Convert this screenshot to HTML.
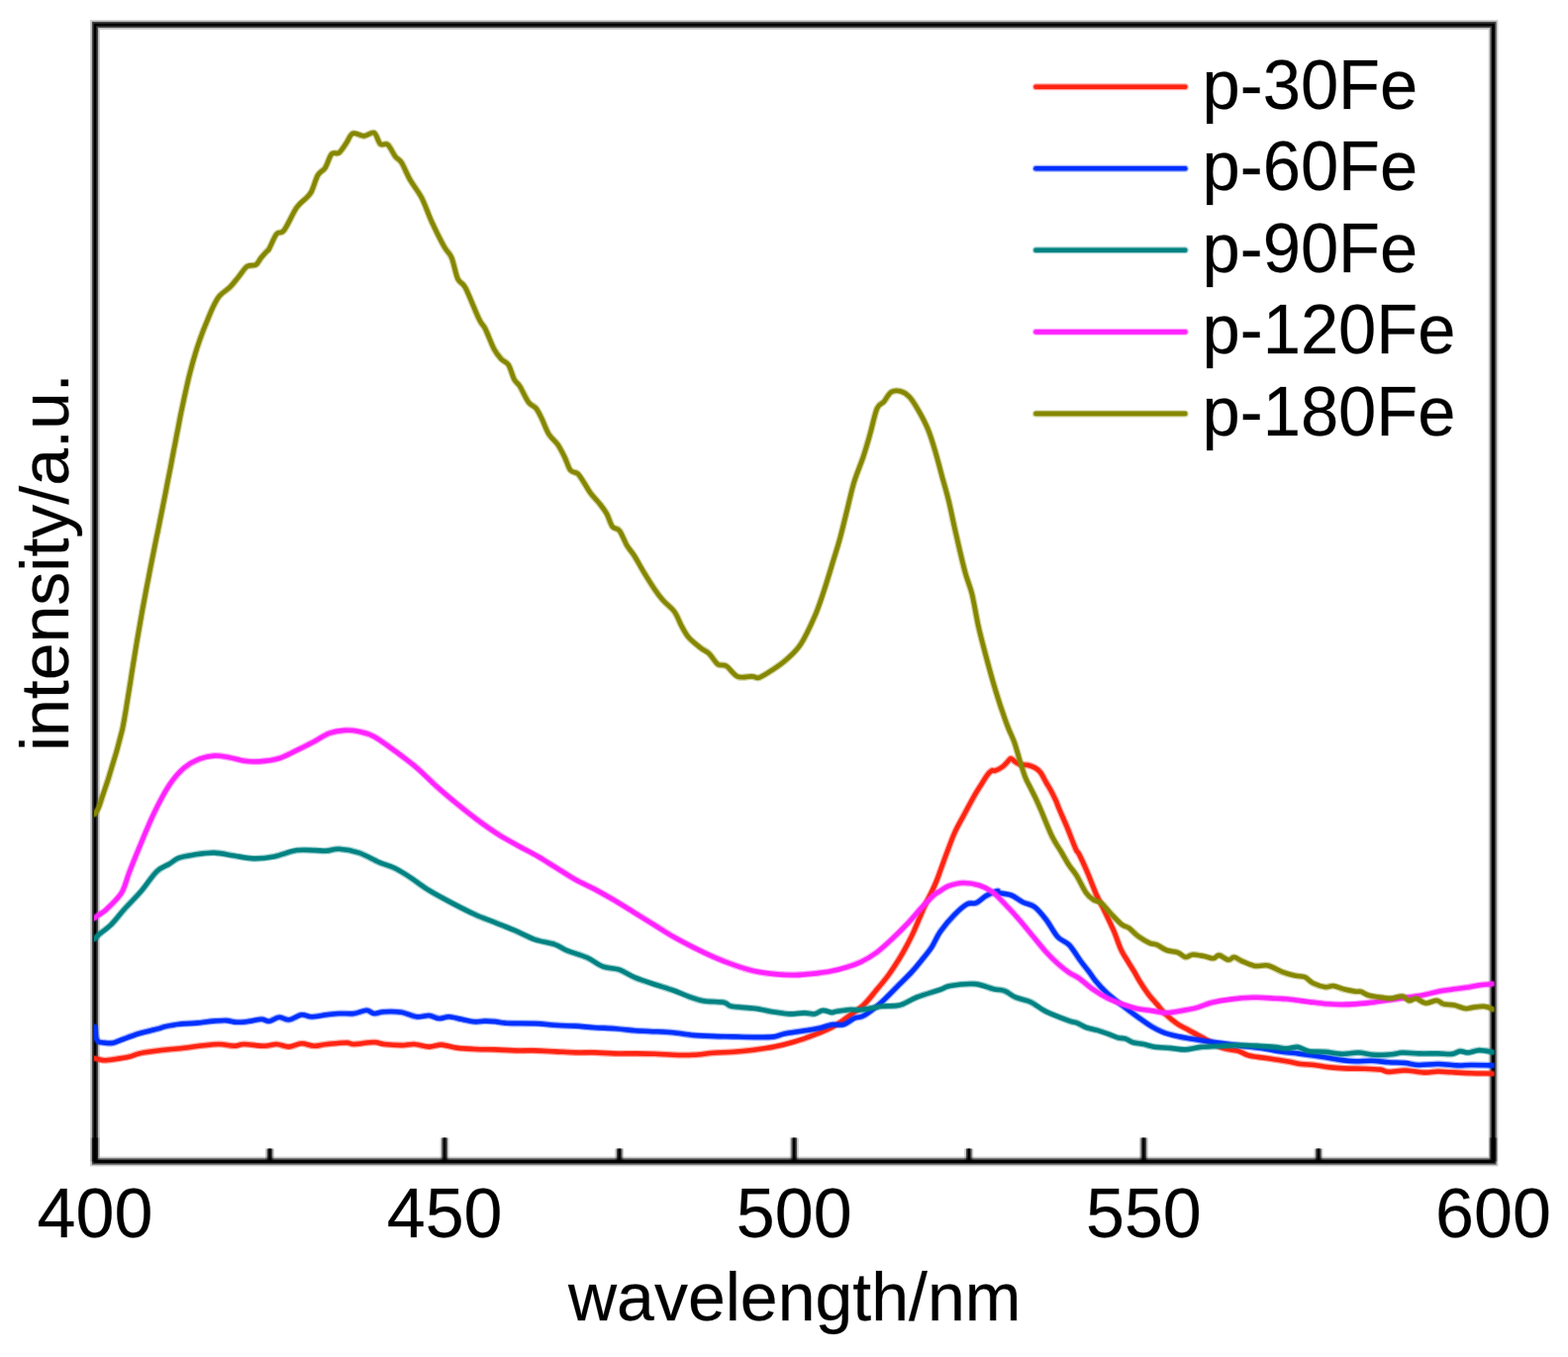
<!DOCTYPE html>
<html><head><meta charset="utf-8"><title>PL spectra</title>
<style>html,body{margin:0;padding:0;background:#fff;}svg{display:block;}text{font-family:"Liberation Sans",Arial,sans-serif;fill:#000;stroke:#000;stroke-width:0.80px;stroke-opacity:0.25;}</style></head><body>
<svg width="1584" height="1371" viewBox="0 0 1584 1371">
<rect x="0" y="0" width="1584" height="1371" fill="#fff"/>
<g fill="none" stroke="#000" stroke-opacity="0.20"><rect x="96.00" y="25.00" width="1412.50" height="1148.50" stroke-width="9.80"/><path d="M96.00 1173.50V1149.50M449.12 1173.50V1149.50M802.25 1173.50V1149.50M1155.38 1173.50V1149.50M1508.50 1173.50V1149.50M272.56 1173.50V1160.50M625.69 1173.50V1160.50M978.81 1173.50V1160.50M1331.94 1173.50V1160.50" stroke-width="9.00"/></g>
<g fill="none" stroke="#000" stroke-opacity="0.65"><rect x="96.00" y="25.00" width="1412.50" height="1148.50" stroke-width="6.20"/><path d="M96.00 1173.50V1149.50M449.12 1173.50V1149.50M802.25 1173.50V1149.50M1155.38 1173.50V1149.50M1508.50 1173.50V1149.50M272.56 1173.50V1160.50M625.69 1173.50V1160.50M978.81 1173.50V1160.50M1331.94 1173.50V1160.50" stroke-width="5.60"/></g>
<g fill="none" stroke="#000"><rect x="96.00" y="25.00" width="1412.50" height="1148.50" stroke-width="2.80"/><path d="M96.00 1173.50V1149.50M449.12 1173.50V1149.50M802.25 1173.50V1149.50M1155.38 1173.50V1149.50M1508.50 1173.50V1149.50M272.56 1173.50V1160.50M625.69 1173.50V1160.50M978.81 1173.50V1160.50M1331.94 1173.50V1160.50" stroke-width="2.40"/></g>
<defs><clipPath id="c"><rect x="95.0" y="25.0" width="1414.5" height="1148.5"/></clipPath></defs>
<g clip-path="url(#c)" fill="none" stroke-linejoin="round" stroke-linecap="round">
<path stroke="#ff2412" stroke-width="7.00" stroke-opacity="0.40" d="M95.3 1069.3C96.1 1069.5 98.3 1070.0 100.0 1070.3C101.7 1070.6 102.7 1071.2 105.2 1071.2C107.8 1071.2 111.1 1070.8 115.3 1070.2C119.5 1069.6 126.2 1068.7 130.4 1067.7C134.6 1066.7 136.3 1065.4 140.5 1064.4C144.7 1063.5 150.6 1062.7 155.7 1062.0C160.8 1061.3 165.8 1060.7 170.8 1060.2C175.9 1059.7 180.9 1059.4 186.0 1058.8C191.1 1058.2 195.2 1057.4 201.1 1056.8C207.0 1056.2 215.4 1055.0 221.3 1055.0C227.2 1055.0 232.3 1056.8 236.5 1056.8C240.7 1056.8 241.5 1055.0 246.6 1055.0C251.7 1055.0 261.3 1056.8 266.8 1056.8C272.3 1056.8 275.2 1054.9 279.4 1055.0C283.6 1055.1 287.8 1057.7 292.0 1057.6C296.2 1057.5 300.4 1054.4 304.6 1054.3C308.8 1054.2 313.1 1056.7 317.3 1056.8C321.5 1056.9 324.4 1055.5 329.9 1055.0C335.4 1054.5 345.5 1053.5 350.1 1053.5C354.7 1053.5 353.1 1055.1 357.7 1055.0C362.3 1054.9 372.8 1053.0 377.9 1053.0C382.9 1053.0 383.4 1054.5 388.0 1055.0C392.6 1055.5 400.6 1056.1 405.7 1056.1C410.8 1056.1 413.7 1054.8 418.3 1055.0C422.9 1055.2 428.8 1057.5 433.4 1057.6C438.0 1057.7 441.5 1055.4 446.1 1055.6C450.7 1055.8 455.6 1057.9 461.2 1058.6C466.8 1059.3 473.5 1059.7 480.0 1060.0C486.5 1060.3 493.5 1060.2 500.2 1060.4C506.9 1060.6 513.7 1061.2 520.4 1061.4C527.1 1061.6 533.9 1061.2 540.6 1061.4C547.3 1061.6 554.1 1062.1 560.8 1062.4C567.5 1062.7 574.3 1063.2 581.0 1063.4C587.7 1063.6 594.5 1063.2 601.2 1063.4C607.9 1063.6 614.7 1064.2 621.4 1064.4C628.1 1064.6 634.9 1064.3 641.6 1064.4C648.3 1064.5 655.4 1064.6 661.8 1064.8C668.2 1065.0 673.6 1065.6 680.0 1065.8C686.4 1066.0 693.6 1066.1 700.4 1065.8C707.2 1065.5 714.0 1064.3 720.8 1063.8C727.6 1063.3 734.5 1063.2 741.3 1062.7C748.1 1062.2 754.9 1061.6 761.7 1060.7C768.5 1059.8 775.3 1059.0 782.1 1057.6C788.9 1056.2 795.7 1054.5 802.5 1052.5C809.3 1050.5 816.6 1047.8 822.9 1045.4C829.1 1043.0 835.1 1040.7 840.0 1038.2C844.9 1035.7 846.7 1034.3 852.0 1030.5C857.3 1026.7 866.5 1020.6 872.0 1015.6C877.5 1010.6 881.0 1005.4 885.3 1000.3C889.6 995.2 893.9 990.1 897.6 985.0C901.4 979.9 904.7 974.6 907.8 969.7C910.9 964.8 913.5 960.2 916.0 955.4C918.5 950.6 920.9 945.9 923.1 941.1C925.3 936.3 927.2 931.6 929.2 926.8C931.2 922.0 933.4 916.9 935.4 912.5C937.4 908.1 939.7 904.0 941.5 900.2C943.3 896.5 944.6 893.6 946.1 890.0C947.6 886.4 948.6 883.2 950.4 878.3C952.2 873.4 954.4 867.1 956.8 860.8C959.2 854.5 961.8 846.9 964.8 840.4C967.8 833.9 971.2 828.2 974.5 822.0C977.8 815.8 982.0 808.0 984.7 803.2C987.5 798.4 988.9 796.3 991.0 793.0C993.1 789.7 995.3 785.7 997.1 783.3C998.9 780.9 1000.6 779.2 1002.0 778.4C1003.4 777.6 1003.5 779.2 1005.3 778.6C1007.1 778.0 1011.0 776.0 1013.0 774.5C1015.0 773.0 1016.2 771.3 1017.6 769.9C1019.0 768.5 1019.8 766.3 1021.1 766.3C1022.5 766.3 1024.1 768.9 1025.7 769.9C1027.3 770.9 1028.7 772.0 1030.8 772.5C1032.9 773.0 1036.0 772.4 1038.5 773.0C1041.0 773.6 1044.0 774.7 1046.1 776.0C1048.2 777.3 1049.6 778.3 1051.3 780.6C1053.0 782.9 1054.7 786.8 1056.4 789.8C1058.1 792.8 1059.8 795.4 1061.5 798.5C1063.2 801.6 1065.2 805.7 1066.6 808.7C1067.9 811.7 1067.7 811.8 1069.6 816.4C1071.5 821.0 1075.3 829.3 1078.2 836.3C1081.1 843.3 1084.9 853.8 1086.9 858.2C1088.9 862.6 1088.0 859.0 1090.0 862.9C1092.0 866.8 1095.8 875.1 1098.7 881.9C1101.6 888.7 1104.6 897.2 1107.5 903.7C1110.4 910.2 1113.3 915.1 1116.2 921.2C1119.1 927.3 1122.3 933.9 1125.0 940.2C1127.7 946.5 1130.1 954.2 1132.3 959.1C1134.5 964.0 1135.9 965.6 1138.1 969.3C1140.3 972.9 1143.2 977.4 1145.4 981.0C1147.6 984.6 1148.8 987.3 1151.2 991.2C1153.6 995.1 1157.1 1000.4 1160.0 1004.3C1162.9 1008.2 1165.8 1011.1 1168.7 1014.5C1171.6 1017.9 1174.0 1021.3 1177.5 1024.7C1181.0 1028.1 1186.0 1032.2 1190.0 1034.9C1194.0 1037.6 1196.5 1038.3 1201.2 1040.9C1205.9 1043.5 1212.6 1047.3 1218.3 1050.3C1224.0 1053.3 1229.9 1057.0 1235.3 1058.9C1240.7 1060.8 1246.1 1060.5 1250.5 1061.7C1254.9 1063.0 1256.8 1065.1 1261.8 1066.4C1266.8 1067.7 1274.4 1068.3 1280.8 1069.3C1287.2 1070.3 1294.5 1071.2 1300.0 1072.2C1305.5 1073.2 1309.3 1074.4 1313.9 1075.0C1318.5 1075.6 1323.2 1075.5 1327.8 1076.0C1332.4 1076.5 1336.6 1077.5 1341.7 1078.1C1346.8 1078.7 1352.3 1079.1 1358.3 1079.4C1364.3 1079.7 1371.8 1079.5 1377.8 1079.7C1383.8 1079.9 1390.2 1080.1 1394.4 1080.6C1398.6 1081.1 1398.6 1082.8 1402.8 1082.9C1407.0 1083.1 1413.4 1081.4 1419.4 1081.5C1425.4 1081.6 1433.3 1083.4 1438.9 1083.6C1444.5 1083.8 1448.2 1082.5 1452.8 1082.5C1457.4 1082.5 1461.2 1083.0 1466.7 1083.3C1472.2 1083.6 1479.2 1084.1 1486.1 1084.3C1493.0 1084.5 1504.6 1084.6 1508.3 1084.7"/>
<path stroke="#ff2412" stroke-width="4.60" d="M95.3 1069.3C96.1 1069.5 98.3 1070.0 100.0 1070.3C101.7 1070.6 102.7 1071.2 105.2 1071.2C107.8 1071.2 111.1 1070.8 115.3 1070.2C119.5 1069.6 126.2 1068.7 130.4 1067.7C134.6 1066.7 136.3 1065.4 140.5 1064.4C144.7 1063.5 150.6 1062.7 155.7 1062.0C160.8 1061.3 165.8 1060.7 170.8 1060.2C175.9 1059.7 180.9 1059.4 186.0 1058.8C191.1 1058.2 195.2 1057.4 201.1 1056.8C207.0 1056.2 215.4 1055.0 221.3 1055.0C227.2 1055.0 232.3 1056.8 236.5 1056.8C240.7 1056.8 241.5 1055.0 246.6 1055.0C251.7 1055.0 261.3 1056.8 266.8 1056.8C272.3 1056.8 275.2 1054.9 279.4 1055.0C283.6 1055.1 287.8 1057.7 292.0 1057.6C296.2 1057.5 300.4 1054.4 304.6 1054.3C308.8 1054.2 313.1 1056.7 317.3 1056.8C321.5 1056.9 324.4 1055.5 329.9 1055.0C335.4 1054.5 345.5 1053.5 350.1 1053.5C354.7 1053.5 353.1 1055.1 357.7 1055.0C362.3 1054.9 372.8 1053.0 377.9 1053.0C382.9 1053.0 383.4 1054.5 388.0 1055.0C392.6 1055.5 400.6 1056.1 405.7 1056.1C410.8 1056.1 413.7 1054.8 418.3 1055.0C422.9 1055.2 428.8 1057.5 433.4 1057.6C438.0 1057.7 441.5 1055.4 446.1 1055.6C450.7 1055.8 455.6 1057.9 461.2 1058.6C466.8 1059.3 473.5 1059.7 480.0 1060.0C486.5 1060.3 493.5 1060.2 500.2 1060.4C506.9 1060.6 513.7 1061.2 520.4 1061.4C527.1 1061.6 533.9 1061.2 540.6 1061.4C547.3 1061.6 554.1 1062.1 560.8 1062.4C567.5 1062.7 574.3 1063.2 581.0 1063.4C587.7 1063.6 594.5 1063.2 601.2 1063.4C607.9 1063.6 614.7 1064.2 621.4 1064.4C628.1 1064.6 634.9 1064.3 641.6 1064.4C648.3 1064.5 655.4 1064.6 661.8 1064.8C668.2 1065.0 673.6 1065.6 680.0 1065.8C686.4 1066.0 693.6 1066.1 700.4 1065.8C707.2 1065.5 714.0 1064.3 720.8 1063.8C727.6 1063.3 734.5 1063.2 741.3 1062.7C748.1 1062.2 754.9 1061.6 761.7 1060.7C768.5 1059.8 775.3 1059.0 782.1 1057.6C788.9 1056.2 795.7 1054.5 802.5 1052.5C809.3 1050.5 816.6 1047.8 822.9 1045.4C829.1 1043.0 835.1 1040.7 840.0 1038.2C844.9 1035.7 846.7 1034.3 852.0 1030.5C857.3 1026.7 866.5 1020.6 872.0 1015.6C877.5 1010.6 881.0 1005.4 885.3 1000.3C889.6 995.2 893.9 990.1 897.6 985.0C901.4 979.9 904.7 974.6 907.8 969.7C910.9 964.8 913.5 960.2 916.0 955.4C918.5 950.6 920.9 945.9 923.1 941.1C925.3 936.3 927.2 931.6 929.2 926.8C931.2 922.0 933.4 916.9 935.4 912.5C937.4 908.1 939.7 904.0 941.5 900.2C943.3 896.5 944.6 893.6 946.1 890.0C947.6 886.4 948.6 883.2 950.4 878.3C952.2 873.4 954.4 867.1 956.8 860.8C959.2 854.5 961.8 846.9 964.8 840.4C967.8 833.9 971.2 828.2 974.5 822.0C977.8 815.8 982.0 808.0 984.7 803.2C987.5 798.4 988.9 796.3 991.0 793.0C993.1 789.7 995.3 785.7 997.1 783.3C998.9 780.9 1000.6 779.2 1002.0 778.4C1003.4 777.6 1003.5 779.2 1005.3 778.6C1007.1 778.0 1011.0 776.0 1013.0 774.5C1015.0 773.0 1016.2 771.3 1017.6 769.9C1019.0 768.5 1019.8 766.3 1021.1 766.3C1022.5 766.3 1024.1 768.9 1025.7 769.9C1027.3 770.9 1028.7 772.0 1030.8 772.5C1032.9 773.0 1036.0 772.4 1038.5 773.0C1041.0 773.6 1044.0 774.7 1046.1 776.0C1048.2 777.3 1049.6 778.3 1051.3 780.6C1053.0 782.9 1054.7 786.8 1056.4 789.8C1058.1 792.8 1059.8 795.4 1061.5 798.5C1063.2 801.6 1065.2 805.7 1066.6 808.7C1067.9 811.7 1067.7 811.8 1069.6 816.4C1071.5 821.0 1075.3 829.3 1078.2 836.3C1081.1 843.3 1084.9 853.8 1086.9 858.2C1088.9 862.6 1088.0 859.0 1090.0 862.9C1092.0 866.8 1095.8 875.1 1098.7 881.9C1101.6 888.7 1104.6 897.2 1107.5 903.7C1110.4 910.2 1113.3 915.1 1116.2 921.2C1119.1 927.3 1122.3 933.9 1125.0 940.2C1127.7 946.5 1130.1 954.2 1132.3 959.1C1134.5 964.0 1135.9 965.6 1138.1 969.3C1140.3 972.9 1143.2 977.4 1145.4 981.0C1147.6 984.6 1148.8 987.3 1151.2 991.2C1153.6 995.1 1157.1 1000.4 1160.0 1004.3C1162.9 1008.2 1165.8 1011.1 1168.7 1014.5C1171.6 1017.9 1174.0 1021.3 1177.5 1024.7C1181.0 1028.1 1186.0 1032.2 1190.0 1034.9C1194.0 1037.6 1196.5 1038.3 1201.2 1040.9C1205.9 1043.5 1212.6 1047.3 1218.3 1050.3C1224.0 1053.3 1229.9 1057.0 1235.3 1058.9C1240.7 1060.8 1246.1 1060.5 1250.5 1061.7C1254.9 1063.0 1256.8 1065.1 1261.8 1066.4C1266.8 1067.7 1274.4 1068.3 1280.8 1069.3C1287.2 1070.3 1294.5 1071.2 1300.0 1072.2C1305.5 1073.2 1309.3 1074.4 1313.9 1075.0C1318.5 1075.6 1323.2 1075.5 1327.8 1076.0C1332.4 1076.5 1336.6 1077.5 1341.7 1078.1C1346.8 1078.7 1352.3 1079.1 1358.3 1079.4C1364.3 1079.7 1371.8 1079.5 1377.8 1079.7C1383.8 1079.9 1390.2 1080.1 1394.4 1080.6C1398.6 1081.1 1398.6 1082.8 1402.8 1082.9C1407.0 1083.1 1413.4 1081.4 1419.4 1081.5C1425.4 1081.6 1433.3 1083.4 1438.9 1083.6C1444.5 1083.8 1448.2 1082.5 1452.8 1082.5C1457.4 1082.5 1461.2 1083.0 1466.7 1083.3C1472.2 1083.6 1479.2 1084.1 1486.1 1084.3C1493.0 1084.5 1504.6 1084.6 1508.3 1084.7"/>
<path stroke="#0030ff" stroke-width="7.00" stroke-opacity="0.40" d="M95.8 1037.5C95.9 1038.8 96.3 1042.8 96.6 1045.0C96.9 1047.2 97.1 1049.2 97.8 1050.5C98.5 1051.8 99.1 1052.3 100.5 1052.8C101.9 1053.3 103.8 1053.4 106.0 1053.6C108.2 1053.8 111.1 1054.2 113.9 1053.7C116.7 1053.2 118.4 1052.1 122.8 1050.5C127.2 1048.9 134.2 1046.1 140.5 1044.2C146.8 1042.3 156.5 1040.2 160.7 1039.1C164.9 1038.0 162.4 1038.1 165.8 1037.4C169.2 1036.7 175.4 1035.4 180.9 1034.8C186.4 1034.2 192.7 1034.1 198.6 1033.6C204.5 1033.1 211.2 1032.0 216.3 1031.6C221.4 1031.2 225.1 1030.9 228.9 1031.1C232.7 1031.3 235.2 1032.7 239.0 1032.8C242.8 1032.9 247.4 1032.3 251.6 1031.8C255.8 1031.3 260.8 1029.8 264.2 1029.8C267.6 1029.8 268.9 1032.1 271.8 1031.8C274.8 1031.5 278.5 1028.0 281.9 1027.8C285.3 1027.5 288.2 1030.7 292.0 1030.3C295.8 1029.9 300.8 1025.8 304.6 1025.3C308.4 1024.8 310.5 1027.3 314.7 1027.3C318.9 1027.3 325.3 1025.8 329.9 1025.3C334.5 1024.8 337.9 1024.2 342.5 1024.0C347.1 1023.8 353.1 1024.5 357.7 1024.0C362.3 1023.5 366.9 1020.7 370.3 1020.7C373.7 1020.7 374.9 1023.8 377.9 1024.0C380.8 1024.2 383.4 1022.4 388.0 1022.2C392.6 1022.0 400.2 1021.9 405.7 1022.7C411.2 1023.6 416.2 1026.8 420.8 1027.3C425.4 1027.8 429.6 1025.7 433.4 1026.0C437.2 1026.3 440.1 1028.8 443.5 1029.0C446.9 1029.2 449.8 1027.2 453.6 1027.3C457.4 1027.4 462.1 1029.0 466.3 1029.8C470.5 1030.6 474.9 1032.0 478.9 1032.3C482.8 1032.6 486.4 1031.6 490.0 1031.6C493.6 1031.6 496.5 1031.8 500.2 1032.1C503.9 1032.4 505.6 1033.4 512.3 1033.7C519.0 1034.0 532.5 1033.8 540.6 1034.1C548.7 1034.4 554.1 1035.4 560.8 1035.8C567.5 1036.2 574.3 1036.2 581.0 1036.6C587.7 1037.0 594.5 1037.8 601.2 1038.2C607.9 1038.6 614.7 1038.7 621.4 1039.2C628.1 1039.7 634.9 1040.7 641.6 1041.2C648.3 1041.7 655.4 1041.9 661.8 1042.2C668.2 1042.5 673.6 1042.7 680.0 1043.3C686.4 1043.9 693.6 1045.3 700.4 1045.9C707.2 1046.5 714.0 1046.7 720.8 1046.9C727.6 1047.2 734.5 1047.2 741.3 1047.4C748.1 1047.6 754.9 1047.9 761.7 1047.9C768.5 1047.9 777.0 1048.0 782.1 1047.4C787.2 1046.8 787.2 1045.4 792.3 1044.4C797.4 1043.4 806.8 1042.2 812.7 1041.3C818.7 1040.3 823.5 1039.7 828.0 1038.7C832.5 1037.7 836.0 1035.8 840.0 1035.2C844.0 1034.6 848.1 1036.3 852.0 1035.2C855.9 1034.1 859.8 1030.1 863.3 1028.6C866.8 1027.0 868.6 1028.6 873.1 1025.9C877.6 1023.2 885.0 1017.4 890.4 1012.6C895.8 1007.8 900.7 1002.4 905.8 997.3C910.9 992.2 916.9 986.5 921.1 981.9C925.4 977.3 927.9 974.0 931.3 969.7C934.7 965.5 938.4 961.2 941.5 956.4C944.6 951.6 946.2 946.5 950.0 941.1C953.8 935.7 959.7 928.8 964.2 924.2C968.7 919.6 973.1 915.5 976.8 913.5C980.5 911.5 983.1 913.6 986.3 912.2C989.5 910.8 992.3 907.3 995.8 905.3C999.3 903.3 1004.7 900.7 1007.1 900.2C1009.5 899.7 1007.6 901.5 1010.0 902.2C1012.4 902.9 1017.8 903.0 1021.7 904.5C1025.6 906.0 1029.4 909.5 1033.3 911.5C1037.2 913.5 1041.1 913.3 1045.0 916.2C1048.9 919.1 1052.8 924.0 1056.7 929.0C1060.6 934.0 1064.5 942.2 1068.4 946.5C1072.3 950.8 1076.1 950.6 1080.0 954.7C1083.9 958.8 1088.4 966.5 1091.7 971.0C1095.0 975.5 1097.5 978.3 1100.0 981.6C1102.5 984.9 1103.5 987.1 1106.5 990.7C1109.5 994.3 1113.5 998.9 1117.9 1003.0C1122.3 1007.1 1128.0 1011.3 1133.0 1015.3C1138.0 1019.2 1143.2 1023.1 1148.2 1026.7C1153.2 1030.3 1158.9 1034.4 1163.3 1037.1C1167.7 1039.8 1170.3 1041.1 1174.7 1042.8C1179.1 1044.5 1184.8 1045.9 1189.8 1047.1C1194.8 1048.3 1199.9 1048.9 1205.0 1049.8C1210.1 1050.7 1215.2 1051.5 1220.2 1052.2C1225.2 1052.9 1229.6 1053.4 1235.3 1054.1C1241.0 1054.8 1247.9 1055.8 1254.2 1056.6C1260.5 1057.4 1266.2 1057.9 1273.2 1058.9C1280.2 1059.9 1289.6 1061.8 1295.9 1062.7C1302.2 1063.6 1306.2 1063.8 1311.1 1064.4C1315.9 1065.0 1320.4 1065.7 1325.0 1066.3C1329.6 1066.9 1333.8 1067.5 1338.9 1068.3C1344.0 1069.1 1350.5 1070.4 1355.6 1071.1C1360.7 1071.8 1364.3 1072.1 1369.4 1072.2C1374.5 1072.3 1380.5 1071.6 1386.1 1071.8C1391.7 1072.0 1397.2 1072.8 1402.8 1073.2C1408.3 1073.6 1414.3 1073.4 1419.4 1073.9C1424.5 1074.4 1427.7 1075.8 1433.3 1076.0C1438.9 1076.2 1446.3 1074.9 1452.8 1075.0C1459.3 1075.1 1466.7 1076.2 1472.2 1076.4C1477.8 1076.6 1480.1 1076.0 1486.1 1076.0C1492.1 1076.0 1504.6 1076.3 1508.3 1076.4"/>
<path stroke="#0030ff" stroke-width="4.60" d="M95.8 1037.5C95.9 1038.8 96.3 1042.8 96.6 1045.0C96.9 1047.2 97.1 1049.2 97.8 1050.5C98.5 1051.8 99.1 1052.3 100.5 1052.8C101.9 1053.3 103.8 1053.4 106.0 1053.6C108.2 1053.8 111.1 1054.2 113.9 1053.7C116.7 1053.2 118.4 1052.1 122.8 1050.5C127.2 1048.9 134.2 1046.1 140.5 1044.2C146.8 1042.3 156.5 1040.2 160.7 1039.1C164.9 1038.0 162.4 1038.1 165.8 1037.4C169.2 1036.7 175.4 1035.4 180.9 1034.8C186.4 1034.2 192.7 1034.1 198.6 1033.6C204.5 1033.1 211.2 1032.0 216.3 1031.6C221.4 1031.2 225.1 1030.9 228.9 1031.1C232.7 1031.3 235.2 1032.7 239.0 1032.8C242.8 1032.9 247.4 1032.3 251.6 1031.8C255.8 1031.3 260.8 1029.8 264.2 1029.8C267.6 1029.8 268.9 1032.1 271.8 1031.8C274.8 1031.5 278.5 1028.0 281.9 1027.8C285.3 1027.5 288.2 1030.7 292.0 1030.3C295.8 1029.9 300.8 1025.8 304.6 1025.3C308.4 1024.8 310.5 1027.3 314.7 1027.3C318.9 1027.3 325.3 1025.8 329.9 1025.3C334.5 1024.8 337.9 1024.2 342.5 1024.0C347.1 1023.8 353.1 1024.5 357.7 1024.0C362.3 1023.5 366.9 1020.7 370.3 1020.7C373.7 1020.7 374.9 1023.8 377.9 1024.0C380.8 1024.2 383.4 1022.4 388.0 1022.2C392.6 1022.0 400.2 1021.9 405.7 1022.7C411.2 1023.6 416.2 1026.8 420.8 1027.3C425.4 1027.8 429.6 1025.7 433.4 1026.0C437.2 1026.3 440.1 1028.8 443.5 1029.0C446.9 1029.2 449.8 1027.2 453.6 1027.3C457.4 1027.4 462.1 1029.0 466.3 1029.8C470.5 1030.6 474.9 1032.0 478.9 1032.3C482.8 1032.6 486.4 1031.6 490.0 1031.6C493.6 1031.6 496.5 1031.8 500.2 1032.1C503.9 1032.4 505.6 1033.4 512.3 1033.7C519.0 1034.0 532.5 1033.8 540.6 1034.1C548.7 1034.4 554.1 1035.4 560.8 1035.8C567.5 1036.2 574.3 1036.2 581.0 1036.6C587.7 1037.0 594.5 1037.8 601.2 1038.2C607.9 1038.6 614.7 1038.7 621.4 1039.2C628.1 1039.7 634.9 1040.7 641.6 1041.2C648.3 1041.7 655.4 1041.9 661.8 1042.2C668.2 1042.5 673.6 1042.7 680.0 1043.3C686.4 1043.9 693.6 1045.3 700.4 1045.9C707.2 1046.5 714.0 1046.7 720.8 1046.9C727.6 1047.2 734.5 1047.2 741.3 1047.4C748.1 1047.6 754.9 1047.9 761.7 1047.9C768.5 1047.9 777.0 1048.0 782.1 1047.4C787.2 1046.8 787.2 1045.4 792.3 1044.4C797.4 1043.4 806.8 1042.2 812.7 1041.3C818.7 1040.3 823.5 1039.7 828.0 1038.7C832.5 1037.7 836.0 1035.8 840.0 1035.2C844.0 1034.6 848.1 1036.3 852.0 1035.2C855.9 1034.1 859.8 1030.1 863.3 1028.6C866.8 1027.0 868.6 1028.6 873.1 1025.9C877.6 1023.2 885.0 1017.4 890.4 1012.6C895.8 1007.8 900.7 1002.4 905.8 997.3C910.9 992.2 916.9 986.5 921.1 981.9C925.4 977.3 927.9 974.0 931.3 969.7C934.7 965.5 938.4 961.2 941.5 956.4C944.6 951.6 946.2 946.5 950.0 941.1C953.8 935.7 959.7 928.8 964.2 924.2C968.7 919.6 973.1 915.5 976.8 913.5C980.5 911.5 983.1 913.6 986.3 912.2C989.5 910.8 992.3 907.3 995.8 905.3C999.3 903.3 1004.7 900.7 1007.1 900.2C1009.5 899.7 1007.6 901.5 1010.0 902.2C1012.4 902.9 1017.8 903.0 1021.7 904.5C1025.6 906.0 1029.4 909.5 1033.3 911.5C1037.2 913.5 1041.1 913.3 1045.0 916.2C1048.9 919.1 1052.8 924.0 1056.7 929.0C1060.6 934.0 1064.5 942.2 1068.4 946.5C1072.3 950.8 1076.1 950.6 1080.0 954.7C1083.9 958.8 1088.4 966.5 1091.7 971.0C1095.0 975.5 1097.5 978.3 1100.0 981.6C1102.5 984.9 1103.5 987.1 1106.5 990.7C1109.5 994.3 1113.5 998.9 1117.9 1003.0C1122.3 1007.1 1128.0 1011.3 1133.0 1015.3C1138.0 1019.2 1143.2 1023.1 1148.2 1026.7C1153.2 1030.3 1158.9 1034.4 1163.3 1037.1C1167.7 1039.8 1170.3 1041.1 1174.7 1042.8C1179.1 1044.5 1184.8 1045.9 1189.8 1047.1C1194.8 1048.3 1199.9 1048.9 1205.0 1049.8C1210.1 1050.7 1215.2 1051.5 1220.2 1052.2C1225.2 1052.9 1229.6 1053.4 1235.3 1054.1C1241.0 1054.8 1247.9 1055.8 1254.2 1056.6C1260.5 1057.4 1266.2 1057.9 1273.2 1058.9C1280.2 1059.9 1289.6 1061.8 1295.9 1062.7C1302.2 1063.6 1306.2 1063.8 1311.1 1064.4C1315.9 1065.0 1320.4 1065.7 1325.0 1066.3C1329.6 1066.9 1333.8 1067.5 1338.9 1068.3C1344.0 1069.1 1350.5 1070.4 1355.6 1071.1C1360.7 1071.8 1364.3 1072.1 1369.4 1072.2C1374.5 1072.3 1380.5 1071.6 1386.1 1071.8C1391.7 1072.0 1397.2 1072.8 1402.8 1073.2C1408.3 1073.6 1414.3 1073.4 1419.4 1073.9C1424.5 1074.4 1427.7 1075.8 1433.3 1076.0C1438.9 1076.2 1446.3 1074.9 1452.8 1075.0C1459.3 1075.1 1466.7 1076.2 1472.2 1076.4C1477.8 1076.6 1480.1 1076.0 1486.1 1076.0C1492.1 1076.0 1504.6 1076.3 1508.3 1076.4"/>
<path stroke="#008282" stroke-width="7.00" stroke-opacity="0.40" d="M95.3 948.5C95.6 948.3 96.1 948.1 96.9 947.3C97.8 946.5 97.8 946.0 100.4 943.8C103.0 941.6 108.1 938.3 112.3 934.1C116.5 929.9 120.3 924.5 125.4 918.8C130.5 913.1 137.4 906.4 142.9 900.0C148.4 893.6 153.5 885.1 158.2 880.6C162.8 876.1 167.0 875.3 170.8 873.0C174.6 870.7 176.7 868.3 180.9 866.7C185.1 865.1 190.2 864.5 196.1 863.6C202.0 862.8 209.6 861.4 216.3 861.6C223.0 861.8 229.8 863.6 236.5 864.6C243.2 865.6 250.0 867.3 256.7 867.4C263.4 867.5 269.8 866.8 276.9 865.4C284.0 864.0 292.9 860.1 299.6 859.1C306.3 858.1 312.2 859.0 317.3 859.1C322.4 859.2 325.7 859.8 329.9 859.6C334.1 859.4 337.0 857.5 342.5 857.8C348.0 858.1 356.0 859.4 362.7 861.6C369.4 863.8 377.0 868.7 382.9 871.2C388.8 873.7 393.1 874.4 398.1 876.8C403.2 879.2 407.3 881.8 413.2 885.6C419.1 889.4 426.2 895.1 433.4 899.5C440.6 903.9 448.4 908.0 456.2 912.1C464.0 916.2 472.7 920.7 480.0 924.0C487.3 927.3 493.5 929.4 500.2 932.1C506.9 934.8 513.7 937.3 520.4 940.2C527.1 943.1 533.9 946.9 540.6 949.3C547.3 951.6 555.4 952.4 560.8 954.3C566.2 956.1 567.5 958.2 572.9 960.4C578.3 962.6 587.0 964.8 593.1 967.5C599.2 970.2 603.9 974.6 609.3 976.6C614.7 978.6 620.1 977.8 625.5 979.6C630.9 981.5 635.6 985.2 641.6 987.7C647.6 990.2 655.4 992.6 661.8 994.7C668.2 996.8 674.4 998.5 680.0 1000.5C685.6 1002.5 690.2 1004.8 695.3 1006.6C700.4 1008.4 704.6 1010.2 710.6 1011.2C716.6 1012.2 726.3 1011.8 731.1 1012.7C735.9 1013.6 734.1 1015.8 739.2 1016.8C744.3 1017.8 754.6 1017.9 761.7 1018.8C768.9 1019.7 776.2 1021.5 782.1 1022.4C788.0 1023.3 792.3 1024.2 797.4 1024.4C802.5 1024.6 808.5 1023.4 812.7 1023.4C817.0 1023.4 819.8 1024.8 822.9 1024.4C826.0 1024.0 828.2 1021.1 831.1 1020.9C834.0 1020.6 837.8 1022.7 840.0 1022.9C842.2 1023.1 841.1 1022.4 844.4 1021.9C847.6 1021.4 855.2 1020.3 859.5 1020.0C863.8 1019.7 864.9 1020.8 870.0 1020.2C875.1 1019.7 883.9 1017.5 890.4 1016.7C896.9 1015.9 902.8 1017.1 908.8 1015.6C914.8 1014.1 919.3 1010.1 926.2 1007.5C933.1 1004.9 944.4 1001.7 950.0 999.8C955.6 997.9 954.1 997.0 959.9 996.0C965.6 995.0 977.2 993.6 984.5 994.1C991.8 994.6 998.5 998.0 1003.5 999.2C1008.5 1000.4 1011.0 999.7 1014.8 1001.1C1018.6 1002.5 1021.8 1005.8 1026.2 1007.7C1030.6 1009.6 1036.4 1010.1 1041.4 1012.5C1046.5 1014.9 1050.1 1018.8 1056.5 1021.9C1062.9 1025.0 1074.8 1029.5 1080.0 1031.4C1085.2 1033.3 1084.8 1032.2 1087.6 1033.3C1090.4 1034.4 1093.5 1036.7 1097.0 1038.0C1100.5 1039.3 1104.6 1039.8 1108.4 1040.9C1112.2 1042.0 1116.3 1043.5 1119.8 1044.7C1123.3 1046.0 1126.4 1047.6 1129.2 1048.4C1132.0 1049.2 1134.3 1048.6 1136.8 1049.4C1139.3 1050.2 1141.2 1052.2 1144.4 1053.2C1147.6 1054.2 1152.0 1054.3 1155.8 1055.1C1159.6 1055.9 1162.7 1057.3 1167.1 1057.9C1171.5 1058.5 1177.2 1058.5 1182.3 1058.9C1187.3 1059.3 1192.4 1060.6 1197.4 1060.4C1202.5 1060.2 1206.9 1058.5 1212.6 1057.9C1218.3 1057.3 1225.2 1057.3 1231.5 1057.0C1237.8 1056.7 1244.2 1056.1 1250.5 1056.0C1256.8 1055.9 1263.1 1056.3 1269.4 1056.6C1275.7 1056.9 1283.2 1057.5 1288.3 1057.9C1293.4 1058.4 1296.2 1059.3 1300.0 1059.3C1303.8 1059.3 1307.4 1057.4 1311.1 1057.9C1314.8 1058.4 1317.6 1061.3 1322.2 1062.1C1326.8 1062.9 1333.3 1062.3 1338.9 1062.8C1344.5 1063.3 1350.0 1064.8 1355.6 1064.9C1361.1 1065.0 1366.7 1063.3 1372.2 1063.5C1377.8 1063.7 1383.3 1065.5 1388.9 1065.8C1394.5 1066.1 1401.0 1065.7 1405.6 1065.3C1410.2 1064.9 1412.1 1063.7 1416.7 1063.5C1421.3 1063.3 1427.3 1064.2 1433.3 1064.4C1439.3 1064.6 1447.2 1064.3 1452.8 1064.4C1458.4 1064.5 1463.0 1065.3 1466.7 1064.9C1470.4 1064.5 1472.2 1062.3 1475.0 1062.1C1477.8 1061.9 1480.1 1063.7 1483.3 1063.5C1486.5 1063.3 1490.2 1061.2 1494.4 1061.1C1498.6 1061.0 1506.0 1062.8 1508.3 1063.1"/>
<path stroke="#008282" stroke-width="4.60" d="M95.3 948.5C95.6 948.3 96.1 948.1 96.9 947.3C97.8 946.5 97.8 946.0 100.4 943.8C103.0 941.6 108.1 938.3 112.3 934.1C116.5 929.9 120.3 924.5 125.4 918.8C130.5 913.1 137.4 906.4 142.9 900.0C148.4 893.6 153.5 885.1 158.2 880.6C162.8 876.1 167.0 875.3 170.8 873.0C174.6 870.7 176.7 868.3 180.9 866.7C185.1 865.1 190.2 864.5 196.1 863.6C202.0 862.8 209.6 861.4 216.3 861.6C223.0 861.8 229.8 863.6 236.5 864.6C243.2 865.6 250.0 867.3 256.7 867.4C263.4 867.5 269.8 866.8 276.9 865.4C284.0 864.0 292.9 860.1 299.6 859.1C306.3 858.1 312.2 859.0 317.3 859.1C322.4 859.2 325.7 859.8 329.9 859.6C334.1 859.4 337.0 857.5 342.5 857.8C348.0 858.1 356.0 859.4 362.7 861.6C369.4 863.8 377.0 868.7 382.9 871.2C388.8 873.7 393.1 874.4 398.1 876.8C403.2 879.2 407.3 881.8 413.2 885.6C419.1 889.4 426.2 895.1 433.4 899.5C440.6 903.9 448.4 908.0 456.2 912.1C464.0 916.2 472.7 920.7 480.0 924.0C487.3 927.3 493.5 929.4 500.2 932.1C506.9 934.8 513.7 937.3 520.4 940.2C527.1 943.1 533.9 946.9 540.6 949.3C547.3 951.6 555.4 952.4 560.8 954.3C566.2 956.1 567.5 958.2 572.9 960.4C578.3 962.6 587.0 964.8 593.1 967.5C599.2 970.2 603.9 974.6 609.3 976.6C614.7 978.6 620.1 977.8 625.5 979.6C630.9 981.5 635.6 985.2 641.6 987.7C647.6 990.2 655.4 992.6 661.8 994.7C668.2 996.8 674.4 998.5 680.0 1000.5C685.6 1002.5 690.2 1004.8 695.3 1006.6C700.4 1008.4 704.6 1010.2 710.6 1011.2C716.6 1012.2 726.3 1011.8 731.1 1012.7C735.9 1013.6 734.1 1015.8 739.2 1016.8C744.3 1017.8 754.6 1017.9 761.7 1018.8C768.9 1019.7 776.2 1021.5 782.1 1022.4C788.0 1023.3 792.3 1024.2 797.4 1024.4C802.5 1024.6 808.5 1023.4 812.7 1023.4C817.0 1023.4 819.8 1024.8 822.9 1024.4C826.0 1024.0 828.2 1021.1 831.1 1020.9C834.0 1020.6 837.8 1022.7 840.0 1022.9C842.2 1023.1 841.1 1022.4 844.4 1021.9C847.6 1021.4 855.2 1020.3 859.5 1020.0C863.8 1019.7 864.9 1020.8 870.0 1020.2C875.1 1019.7 883.9 1017.5 890.4 1016.7C896.9 1015.9 902.8 1017.1 908.8 1015.6C914.8 1014.1 919.3 1010.1 926.2 1007.5C933.1 1004.9 944.4 1001.7 950.0 999.8C955.6 997.9 954.1 997.0 959.9 996.0C965.6 995.0 977.2 993.6 984.5 994.1C991.8 994.6 998.5 998.0 1003.5 999.2C1008.5 1000.4 1011.0 999.7 1014.8 1001.1C1018.6 1002.5 1021.8 1005.8 1026.2 1007.7C1030.6 1009.6 1036.4 1010.1 1041.4 1012.5C1046.5 1014.9 1050.1 1018.8 1056.5 1021.9C1062.9 1025.0 1074.8 1029.5 1080.0 1031.4C1085.2 1033.3 1084.8 1032.2 1087.6 1033.3C1090.4 1034.4 1093.5 1036.7 1097.0 1038.0C1100.5 1039.3 1104.6 1039.8 1108.4 1040.9C1112.2 1042.0 1116.3 1043.5 1119.8 1044.7C1123.3 1046.0 1126.4 1047.6 1129.2 1048.4C1132.0 1049.2 1134.3 1048.6 1136.8 1049.4C1139.3 1050.2 1141.2 1052.2 1144.4 1053.2C1147.6 1054.2 1152.0 1054.3 1155.8 1055.1C1159.6 1055.9 1162.7 1057.3 1167.1 1057.9C1171.5 1058.5 1177.2 1058.5 1182.3 1058.9C1187.3 1059.3 1192.4 1060.6 1197.4 1060.4C1202.5 1060.2 1206.9 1058.5 1212.6 1057.9C1218.3 1057.3 1225.2 1057.3 1231.5 1057.0C1237.8 1056.7 1244.2 1056.1 1250.5 1056.0C1256.8 1055.9 1263.1 1056.3 1269.4 1056.6C1275.7 1056.9 1283.2 1057.5 1288.3 1057.9C1293.4 1058.4 1296.2 1059.3 1300.0 1059.3C1303.8 1059.3 1307.4 1057.4 1311.1 1057.9C1314.8 1058.4 1317.6 1061.3 1322.2 1062.1C1326.8 1062.9 1333.3 1062.3 1338.9 1062.8C1344.5 1063.3 1350.0 1064.8 1355.6 1064.9C1361.1 1065.0 1366.7 1063.3 1372.2 1063.5C1377.8 1063.7 1383.3 1065.5 1388.9 1065.8C1394.5 1066.1 1401.0 1065.7 1405.6 1065.3C1410.2 1064.9 1412.1 1063.7 1416.7 1063.5C1421.3 1063.3 1427.3 1064.2 1433.3 1064.4C1439.3 1064.6 1447.2 1064.3 1452.8 1064.4C1458.4 1064.5 1463.0 1065.3 1466.7 1064.9C1470.4 1064.5 1472.2 1062.3 1475.0 1062.1C1477.8 1061.9 1480.1 1063.7 1483.3 1063.5C1486.5 1063.3 1490.2 1061.2 1494.4 1061.1C1498.6 1061.0 1506.0 1062.8 1508.3 1063.1"/>
<path stroke="#ff22ff" stroke-width="7.00" stroke-opacity="0.40" d="M95.3 927.5C95.6 927.3 95.8 927.1 96.9 926.3C98.0 925.5 100.2 924.1 102.0 922.8C103.8 921.5 104.4 921.9 107.9 918.4C111.4 914.9 119.0 908.1 122.8 902.0C126.5 895.9 127.5 889.4 130.4 881.8C133.3 874.2 136.3 866.7 140.5 856.6C144.7 846.5 150.6 831.7 155.7 821.2C160.8 810.7 165.8 801.0 170.8 793.4C175.9 785.8 180.9 780.2 186.0 775.8C191.1 771.4 196.0 768.9 201.1 766.9C206.2 764.9 211.2 763.9 216.3 763.6C221.4 763.3 226.4 764.4 231.4 765.2C236.4 766.1 241.6 768.0 246.6 768.7C251.6 769.4 255.8 769.8 261.7 769.4C267.6 769.0 275.6 768.1 281.9 766.2C288.2 764.3 293.7 760.9 299.6 758.1C305.5 755.3 311.8 752.1 317.3 749.2C322.8 746.3 327.3 742.8 332.4 740.9C337.4 739.0 342.6 738.2 347.6 737.9C352.7 737.6 357.6 738.0 362.7 739.1C367.8 740.2 372.0 741.0 377.9 744.2C383.8 747.4 391.0 752.9 398.1 758.1C405.2 763.3 413.3 769.2 420.4 775.2C427.5 781.2 434.0 788.2 440.8 794.3C447.6 800.4 454.5 806.2 461.3 811.8C468.1 817.4 474.9 822.8 481.7 827.9C488.5 833.0 495.3 837.9 502.1 842.2C508.9 846.6 515.7 850.2 522.5 854.0C529.3 857.8 536.5 861.3 542.9 865.0C549.3 868.7 554.4 872.1 560.8 876.0C567.1 879.9 574.3 884.7 581.0 888.5C587.7 892.3 594.5 895.0 601.2 898.6C607.9 902.2 614.7 906.0 621.4 910.0C628.1 914.0 634.9 918.3 641.6 922.5C648.3 926.7 655.4 931.0 661.8 935.0C668.2 939.0 673.6 942.6 680.0 946.3C686.4 950.0 693.6 953.7 700.4 957.1C707.2 960.5 714.0 963.8 720.8 966.8C727.6 969.8 734.5 972.5 741.3 974.9C748.1 977.3 754.9 979.6 761.7 981.1C768.5 982.6 775.3 983.4 782.1 984.1C788.9 984.8 795.7 985.2 802.5 985.1C809.3 985.0 816.6 984.3 822.9 983.6C829.1 982.9 834.5 982.2 840.0 981.1C845.5 980.0 850.8 978.6 855.8 977.0C860.8 975.4 865.1 974.1 870.0 971.7C874.9 969.3 880.2 966.2 885.3 962.5C890.4 958.8 895.5 954.0 900.6 949.2C905.7 944.4 910.9 939.3 916.0 933.9C921.1 928.5 926.7 921.5 931.3 916.6C935.9 911.7 940.4 907.1 943.5 904.3C946.6 901.5 947.6 901.5 950.0 900.0C952.4 898.5 954.1 896.5 957.9 895.2C961.7 893.9 967.8 892.1 973.0 892.0C978.2 891.9 984.5 893.0 989.4 894.5C994.2 896.0 998.7 898.5 1002.1 900.8C1005.5 903.0 1005.8 903.7 1010.0 908.0C1014.2 912.3 1021.7 920.1 1027.5 926.7C1033.3 933.3 1040.1 941.9 1045.0 947.7C1049.9 953.5 1052.8 957.4 1056.7 961.7C1060.6 966.0 1064.5 969.9 1068.4 973.4C1072.3 976.9 1076.4 980.2 1080.0 982.7C1083.6 985.2 1085.9 985.4 1090.0 988.3C1094.1 991.2 1099.7 996.5 1104.6 999.9C1109.5 1003.3 1114.3 1006.3 1119.2 1008.7C1124.1 1011.1 1128.9 1012.8 1133.7 1014.5C1138.5 1016.2 1143.4 1017.8 1148.3 1018.9C1153.2 1020.0 1158.0 1020.4 1162.9 1021.1C1167.8 1021.8 1173.0 1023.2 1177.5 1023.3C1182.0 1023.4 1184.8 1022.7 1190.0 1021.8C1195.2 1020.9 1203.1 1019.6 1208.8 1018.1C1214.5 1016.6 1218.2 1014.4 1223.9 1013.0C1229.6 1011.6 1236.0 1010.5 1242.9 1009.6C1249.9 1008.7 1258.0 1007.9 1265.6 1007.7C1273.2 1007.6 1282.6 1008.4 1288.3 1008.7C1294.0 1009.0 1295.7 1008.9 1300.0 1009.3C1304.3 1009.7 1309.3 1010.5 1313.9 1011.1C1318.5 1011.7 1323.2 1012.3 1327.8 1012.8C1332.4 1013.3 1337.1 1013.9 1341.7 1014.2C1346.3 1014.6 1351.0 1014.9 1355.6 1014.9C1360.2 1014.9 1364.8 1014.7 1369.4 1014.4C1374.0 1014.1 1378.7 1013.6 1383.3 1013.1C1387.9 1012.6 1392.6 1011.7 1397.2 1011.1C1401.8 1010.5 1406.5 1009.9 1411.1 1009.3C1415.7 1008.6 1420.4 1007.9 1425.0 1007.2C1429.6 1006.5 1434.3 1006.0 1438.9 1005.1C1443.5 1004.2 1448.2 1002.6 1452.8 1001.7C1457.4 1000.8 1462.1 1000.2 1466.7 999.6C1471.3 999.0 1476.0 998.5 1480.6 997.8C1485.2 997.1 1489.8 996.0 1494.4 995.4C1499.0 994.8 1506.0 994.2 1508.3 994.0"/>
<path stroke="#ff22ff" stroke-width="4.60" d="M95.3 927.5C95.6 927.3 95.8 927.1 96.9 926.3C98.0 925.5 100.2 924.1 102.0 922.8C103.8 921.5 104.4 921.9 107.9 918.4C111.4 914.9 119.0 908.1 122.8 902.0C126.5 895.9 127.5 889.4 130.4 881.8C133.3 874.2 136.3 866.7 140.5 856.6C144.7 846.5 150.6 831.7 155.7 821.2C160.8 810.7 165.8 801.0 170.8 793.4C175.9 785.8 180.9 780.2 186.0 775.8C191.1 771.4 196.0 768.9 201.1 766.9C206.2 764.9 211.2 763.9 216.3 763.6C221.4 763.3 226.4 764.4 231.4 765.2C236.4 766.1 241.6 768.0 246.6 768.7C251.6 769.4 255.8 769.8 261.7 769.4C267.6 769.0 275.6 768.1 281.9 766.2C288.2 764.3 293.7 760.9 299.6 758.1C305.5 755.3 311.8 752.1 317.3 749.2C322.8 746.3 327.3 742.8 332.4 740.9C337.4 739.0 342.6 738.2 347.6 737.9C352.7 737.6 357.6 738.0 362.7 739.1C367.8 740.2 372.0 741.0 377.9 744.2C383.8 747.4 391.0 752.9 398.1 758.1C405.2 763.3 413.3 769.2 420.4 775.2C427.5 781.2 434.0 788.2 440.8 794.3C447.6 800.4 454.5 806.2 461.3 811.8C468.1 817.4 474.9 822.8 481.7 827.9C488.5 833.0 495.3 837.9 502.1 842.2C508.9 846.6 515.7 850.2 522.5 854.0C529.3 857.8 536.5 861.3 542.9 865.0C549.3 868.7 554.4 872.1 560.8 876.0C567.1 879.9 574.3 884.7 581.0 888.5C587.7 892.3 594.5 895.0 601.2 898.6C607.9 902.2 614.7 906.0 621.4 910.0C628.1 914.0 634.9 918.3 641.6 922.5C648.3 926.7 655.4 931.0 661.8 935.0C668.2 939.0 673.6 942.6 680.0 946.3C686.4 950.0 693.6 953.7 700.4 957.1C707.2 960.5 714.0 963.8 720.8 966.8C727.6 969.8 734.5 972.5 741.3 974.9C748.1 977.3 754.9 979.6 761.7 981.1C768.5 982.6 775.3 983.4 782.1 984.1C788.9 984.8 795.7 985.2 802.5 985.1C809.3 985.0 816.6 984.3 822.9 983.6C829.1 982.9 834.5 982.2 840.0 981.1C845.5 980.0 850.8 978.6 855.8 977.0C860.8 975.4 865.1 974.1 870.0 971.7C874.9 969.3 880.2 966.2 885.3 962.5C890.4 958.8 895.5 954.0 900.6 949.2C905.7 944.4 910.9 939.3 916.0 933.9C921.1 928.5 926.7 921.5 931.3 916.6C935.9 911.7 940.4 907.1 943.5 904.3C946.6 901.5 947.6 901.5 950.0 900.0C952.4 898.5 954.1 896.5 957.9 895.2C961.7 893.9 967.8 892.1 973.0 892.0C978.2 891.9 984.5 893.0 989.4 894.5C994.2 896.0 998.7 898.5 1002.1 900.8C1005.5 903.0 1005.8 903.7 1010.0 908.0C1014.2 912.3 1021.7 920.1 1027.5 926.7C1033.3 933.3 1040.1 941.9 1045.0 947.7C1049.9 953.5 1052.8 957.4 1056.7 961.7C1060.6 966.0 1064.5 969.9 1068.4 973.4C1072.3 976.9 1076.4 980.2 1080.0 982.7C1083.6 985.2 1085.9 985.4 1090.0 988.3C1094.1 991.2 1099.7 996.5 1104.6 999.9C1109.5 1003.3 1114.3 1006.3 1119.2 1008.7C1124.1 1011.1 1128.9 1012.8 1133.7 1014.5C1138.5 1016.2 1143.4 1017.8 1148.3 1018.9C1153.2 1020.0 1158.0 1020.4 1162.9 1021.1C1167.8 1021.8 1173.0 1023.2 1177.5 1023.3C1182.0 1023.4 1184.8 1022.7 1190.0 1021.8C1195.2 1020.9 1203.1 1019.6 1208.8 1018.1C1214.5 1016.6 1218.2 1014.4 1223.9 1013.0C1229.6 1011.6 1236.0 1010.5 1242.9 1009.6C1249.9 1008.7 1258.0 1007.9 1265.6 1007.7C1273.2 1007.6 1282.6 1008.4 1288.3 1008.7C1294.0 1009.0 1295.7 1008.9 1300.0 1009.3C1304.3 1009.7 1309.3 1010.5 1313.9 1011.1C1318.5 1011.7 1323.2 1012.3 1327.8 1012.8C1332.4 1013.3 1337.1 1013.9 1341.7 1014.2C1346.3 1014.6 1351.0 1014.9 1355.6 1014.9C1360.2 1014.9 1364.8 1014.7 1369.4 1014.4C1374.0 1014.1 1378.7 1013.6 1383.3 1013.1C1387.9 1012.6 1392.6 1011.7 1397.2 1011.1C1401.8 1010.5 1406.5 1009.9 1411.1 1009.3C1415.7 1008.6 1420.4 1007.9 1425.0 1007.2C1429.6 1006.5 1434.3 1006.0 1438.9 1005.1C1443.5 1004.2 1448.2 1002.6 1452.8 1001.7C1457.4 1000.8 1462.1 1000.2 1466.7 999.6C1471.3 999.0 1476.0 998.5 1480.6 997.8C1485.2 997.1 1489.8 996.0 1494.4 995.4C1499.0 994.8 1506.0 994.2 1508.3 994.0"/>
<path stroke="#858700" stroke-width="7.00" stroke-opacity="0.40" d="M95.5 822.5C95.7 822.3 95.9 822.6 96.6 821.4C97.3 820.2 98.7 818.1 99.8 815.5C100.9 812.9 102.0 808.9 103.1 805.6C104.2 802.4 105.2 799.3 106.3 796.0C107.4 792.7 108.5 789.8 109.7 785.9C110.9 782.0 112.3 777.2 113.6 772.8C114.9 768.4 116.5 763.5 117.6 759.7C118.7 755.9 119.3 753.3 120.2 750.0C121.1 746.7 122.2 742.3 122.8 740.0C123.4 737.7 123.4 738.0 123.8 736.0C124.2 734.0 124.8 730.7 125.3 728.0C125.8 725.3 126.2 722.7 126.7 720.0C127.2 717.3 127.6 714.7 128.0 712.0C128.4 709.3 128.9 706.7 129.3 704.0C129.7 701.3 130.2 698.7 130.6 696.0C131.0 693.3 131.5 690.7 131.9 688.0C132.3 685.3 132.7 682.7 133.1 680.0C133.5 677.3 134.0 674.7 134.4 672.0C134.8 669.3 135.3 666.7 135.7 664.0C136.1 661.3 136.6 658.7 137.0 656.0C137.4 653.3 137.9 650.7 138.3 648.0C138.8 645.3 139.2 642.7 139.7 640.0C140.2 637.3 140.6 634.7 141.1 632.0C141.6 629.3 142.0 626.7 142.5 624.0C143.0 621.3 143.4 618.7 143.9 616.0C144.4 613.3 144.9 610.7 145.4 608.0C145.9 605.3 146.4 602.7 146.9 600.0C147.4 597.3 147.9 594.7 148.4 592.0C148.9 589.3 149.5 586.7 150.0 584.0C150.5 581.3 151.0 578.7 151.5 576.0C152.0 573.3 152.6 570.7 153.1 568.0C153.6 565.3 154.2 562.7 154.7 560.0C155.2 557.3 155.8 554.7 156.3 552.0C156.8 549.3 157.4 546.7 157.9 544.0C158.4 541.3 159.1 538.7 159.6 536.0C160.1 533.3 160.7 530.7 161.2 528.0C161.7 525.3 162.3 522.7 162.8 520.0C163.3 517.3 163.9 514.7 164.4 512.0C164.9 509.3 165.5 506.7 166.0 504.0C166.5 501.3 167.1 498.7 167.6 496.0C168.1 493.3 168.6 490.7 169.1 488.0C169.6 485.3 170.2 482.7 170.7 480.0C171.2 477.3 171.8 474.7 172.3 472.0C172.8 469.3 173.3 466.7 173.8 464.0C174.3 461.3 174.8 458.7 175.3 456.0C175.8 453.3 176.4 450.7 176.9 448.0C177.4 445.3 177.9 442.7 178.4 440.0C178.9 437.3 179.5 434.7 180.0 432.0C180.5 429.3 181.0 426.7 181.5 424.0C182.0 421.3 182.5 418.7 183.1 416.0C183.7 413.3 184.2 410.7 184.8 408.0C185.4 405.3 185.9 402.7 186.5 400.0C187.1 397.3 187.7 394.7 188.3 392.0C188.9 389.3 189.5 386.7 190.1 384.0C190.7 381.3 191.4 378.7 192.1 376.0C192.8 373.3 193.5 370.7 194.2 368.0C194.9 365.3 195.7 362.7 196.5 360.0C197.3 357.3 198.1 354.7 198.9 352.0C199.8 349.3 200.7 346.7 201.6 344.0C202.5 341.3 203.5 338.7 204.5 336.0C205.5 333.3 206.0 332.1 207.7 328.0C209.4 323.9 212.4 316.0 214.7 311.2C217.0 306.4 218.8 302.5 221.7 299.0C224.6 295.5 229.0 293.4 232.2 290.2C235.4 287.0 238.1 283.2 241.0 279.7C243.9 276.2 246.8 271.2 249.7 269.2C252.6 267.2 256.2 268.9 258.5 267.5C260.8 266.1 261.8 262.8 263.7 260.5C265.6 258.2 268.6 255.0 270.0 253.5C271.4 252.0 270.2 254.3 271.8 251.5C273.4 248.7 276.9 239.6 279.4 236.4C281.9 233.2 283.6 237.0 287.0 232.6C290.4 228.2 295.8 215.3 299.6 209.8C303.4 204.3 307.2 202.4 309.7 199.7C312.2 197.0 312.8 197.2 314.7 193.4C316.6 189.6 318.8 181.0 321.1 177.0C323.4 173.0 326.3 173.0 328.6 169.4C330.9 165.8 332.7 158.1 335.0 155.6C337.3 153.1 340.0 156.2 342.5 154.3C345.0 152.4 347.8 147.4 350.1 144.2C352.4 140.9 353.4 135.9 356.4 134.8C359.3 133.7 364.2 137.5 367.8 137.4C371.4 137.3 375.2 132.8 377.9 134.1C380.6 135.4 381.9 143.5 384.2 145.5C386.5 147.5 389.3 144.1 391.8 146.2C394.3 148.3 397.0 155.1 399.3 158.1C401.6 161.1 403.2 160.4 405.7 164.4C408.2 168.4 411.1 176.2 414.5 182.1C417.9 188.0 422.3 192.8 425.9 199.7C429.5 206.6 432.2 215.5 436.0 223.7C439.8 231.9 445.2 242.9 448.6 249.0C452.0 255.1 453.9 254.9 456.2 260.4C458.5 265.9 460.2 276.8 462.5 281.8C464.8 286.9 466.5 284.0 470.1 290.7C473.7 297.4 480.5 315.3 483.9 322.2C487.2 329.1 487.7 327.1 490.2 332.1C492.7 337.2 496.3 347.4 499.0 352.5C501.7 357.6 503.9 360.0 506.3 362.7C508.7 365.4 511.4 365.2 513.6 368.6C515.8 372.0 517.5 379.6 519.4 383.2C521.3 386.8 522.8 386.5 525.2 390.4C527.6 394.3 531.3 402.9 534.0 406.5C536.7 410.1 539.1 409.6 541.3 412.3C543.5 415.0 544.9 418.1 547.1 422.5C549.3 426.9 551.7 434.2 554.4 438.6C557.1 443.0 560.5 444.9 563.2 448.8C565.9 452.7 568.2 457.5 570.4 461.9C572.6 466.3 574.1 472.3 576.3 475.1C578.5 477.9 581.4 476.7 583.6 478.6C585.8 480.5 587.2 483.4 589.4 486.7C591.6 490.0 594.0 494.8 596.7 498.4C599.4 502.0 602.8 505.2 605.5 508.6C608.2 512.0 610.6 514.9 612.8 518.8C615.0 522.7 616.4 529.1 618.6 532.0C620.8 534.9 623.5 533.1 625.9 536.3C628.3 539.4 630.8 546.8 633.2 550.9C635.6 555.0 637.6 556.5 640.5 561.1C643.4 565.7 647.3 573.0 650.7 578.6C654.1 584.2 657.8 590.1 660.9 594.7C664.0 599.3 666.2 602.4 669.6 606.3C673.0 610.2 678.1 613.6 681.3 618.0C684.5 622.4 686.2 628.2 688.6 632.6C691.0 637.0 692.7 640.6 695.9 644.3C699.1 647.9 704.2 651.8 707.6 654.5C711.0 657.2 713.4 657.5 716.3 660.3C719.2 663.1 722.2 669.0 725.1 671.1C728.0 673.2 730.4 670.8 733.8 672.9C737.2 675.0 741.1 682.0 745.5 683.7C749.9 685.5 756.4 683.2 760.0 683.4C763.6 683.5 763.5 685.8 767.0 684.6C770.5 683.4 776.3 679.5 781.0 676.4C785.7 673.3 790.3 670.2 795.0 665.9C799.7 661.6 804.3 657.9 809.0 650.7C813.7 643.5 819.1 631.7 823.0 622.7C826.9 613.8 829.2 606.3 832.3 597.0C835.4 587.7 839.0 575.6 841.7 566.7C844.4 557.8 846.4 552.0 848.7 543.4C851.0 534.8 853.4 524.7 855.7 515.4C858.0 506.1 860.0 496.3 862.7 487.4C865.4 478.4 869.3 469.9 872.0 461.7C874.7 453.5 876.7 446.5 879.0 438.3C881.3 430.1 883.7 418.1 886.0 412.7C888.3 407.3 890.7 408.4 893.0 405.7C895.3 403.0 897.3 398.1 900.0 396.3C902.7 394.6 906.3 394.4 909.4 395.2C912.5 396.0 915.6 397.7 918.7 401.0C921.8 404.3 924.9 409.6 928.0 415.0C931.1 420.4 934.7 427.1 937.4 433.7C940.1 440.3 942.1 446.9 944.4 454.7C946.7 462.5 949.1 471.8 951.4 480.3C953.7 488.9 956.0 496.1 958.4 506.0C960.8 515.9 963.0 527.6 965.8 539.6C968.5 551.6 972.2 567.8 974.9 577.9C977.6 588.0 979.6 590.9 981.9 600.0C984.1 609.1 986.2 622.9 988.4 632.8C990.6 642.6 992.1 648.1 995.0 659.1C997.9 670.1 1002.4 686.5 1006.0 698.5C1009.6 710.5 1013.8 722.7 1016.9 731.3C1020.0 739.9 1022.4 743.5 1024.7 750.0C1027.0 756.5 1028.9 764.4 1030.8 770.4C1032.7 776.4 1034.2 781.4 1035.9 785.7C1037.6 790.0 1039.3 792.6 1041.0 796.0C1042.7 799.4 1044.4 802.6 1046.1 806.2C1047.8 809.9 1048.5 811.4 1051.3 817.9C1054.1 824.4 1059.4 838.1 1062.8 845.1C1066.2 852.1 1068.8 855.1 1071.7 860.0C1074.6 864.9 1077.3 870.1 1080.0 874.2C1082.7 878.3 1084.8 880.0 1087.6 884.6C1090.4 889.2 1094.2 897.6 1097.0 901.7C1099.8 905.8 1102.1 907.5 1104.6 909.2C1107.1 910.9 1109.3 909.9 1112.2 912.1C1115.1 914.3 1118.2 918.9 1121.7 922.5C1125.2 926.1 1129.8 931.4 1133.0 933.9C1136.2 936.4 1137.8 935.7 1140.6 937.7C1143.4 939.8 1146.6 943.7 1150.1 946.2C1153.6 948.7 1158.2 951.4 1161.4 952.8C1164.6 954.2 1166.2 953.5 1169.0 954.7C1171.8 955.9 1175.0 958.7 1178.5 960.0C1182.0 961.3 1186.6 961.1 1189.8 962.3C1193.0 963.5 1194.9 966.6 1197.4 967.0C1199.9 967.4 1201.8 964.6 1205.0 964.5C1208.2 964.4 1212.9 965.5 1216.4 966.1C1219.9 966.7 1223.3 968.5 1225.8 968.3C1228.3 968.1 1229.0 964.9 1231.5 965.1C1234.0 965.4 1238.5 969.5 1241.0 969.8C1243.5 970.1 1244.5 966.8 1246.7 967.0C1248.9 967.2 1250.7 969.3 1254.2 970.8C1257.7 972.3 1263.1 975.1 1267.5 975.9C1271.9 976.7 1276.1 974.5 1280.8 975.5C1285.5 976.5 1291.3 980.5 1295.9 982.2C1300.5 983.9 1304.6 984.9 1308.3 985.7C1312.0 986.5 1315.1 985.8 1318.1 987.1C1321.1 988.4 1322.9 991.6 1326.4 993.3C1329.9 995.0 1335.4 996.7 1338.9 997.2C1342.4 997.7 1344.0 995.7 1347.2 996.1C1350.4 996.5 1354.6 998.7 1358.3 999.6C1362.0 1000.5 1366.6 1001.3 1369.4 1001.7C1372.2 1002.1 1372.7 1001.2 1375.0 1001.9C1377.3 1002.6 1379.6 1004.8 1383.3 1005.8C1387.0 1006.8 1393.5 1007.4 1397.2 1007.9C1400.9 1008.4 1402.3 1008.8 1405.6 1008.6C1408.8 1008.4 1413.7 1006.1 1416.7 1006.5C1419.7 1006.9 1421.3 1010.7 1423.6 1011.1C1425.9 1011.5 1427.8 1008.5 1430.6 1008.9C1433.4 1009.3 1436.8 1013.2 1440.3 1013.5C1443.8 1013.8 1448.4 1010.6 1451.4 1010.7C1454.4 1010.9 1455.3 1013.6 1458.3 1014.4C1461.3 1015.2 1465.7 1014.8 1469.4 1015.6C1473.1 1016.4 1477.3 1018.7 1480.6 1019.0C1483.8 1019.3 1485.7 1018.0 1488.9 1017.6C1492.1 1017.2 1496.8 1016.5 1500.0 1016.9C1503.2 1017.2 1506.9 1019.2 1508.3 1019.7"/>
<path stroke="#858700" stroke-width="4.60" d="M95.5 822.5C95.7 822.3 95.9 822.6 96.6 821.4C97.3 820.2 98.7 818.1 99.8 815.5C100.9 812.9 102.0 808.9 103.1 805.6C104.2 802.4 105.2 799.3 106.3 796.0C107.4 792.7 108.5 789.8 109.7 785.9C110.9 782.0 112.3 777.2 113.6 772.8C114.9 768.4 116.5 763.5 117.6 759.7C118.7 755.9 119.3 753.3 120.2 750.0C121.1 746.7 122.2 742.3 122.8 740.0C123.4 737.7 123.4 738.0 123.8 736.0C124.2 734.0 124.8 730.7 125.3 728.0C125.8 725.3 126.2 722.7 126.7 720.0C127.2 717.3 127.6 714.7 128.0 712.0C128.4 709.3 128.9 706.7 129.3 704.0C129.7 701.3 130.2 698.7 130.6 696.0C131.0 693.3 131.5 690.7 131.9 688.0C132.3 685.3 132.7 682.7 133.1 680.0C133.5 677.3 134.0 674.7 134.4 672.0C134.8 669.3 135.3 666.7 135.7 664.0C136.1 661.3 136.6 658.7 137.0 656.0C137.4 653.3 137.9 650.7 138.3 648.0C138.8 645.3 139.2 642.7 139.7 640.0C140.2 637.3 140.6 634.7 141.1 632.0C141.6 629.3 142.0 626.7 142.5 624.0C143.0 621.3 143.4 618.7 143.9 616.0C144.4 613.3 144.9 610.7 145.4 608.0C145.9 605.3 146.4 602.7 146.9 600.0C147.4 597.3 147.9 594.7 148.4 592.0C148.9 589.3 149.5 586.7 150.0 584.0C150.5 581.3 151.0 578.7 151.5 576.0C152.0 573.3 152.6 570.7 153.1 568.0C153.6 565.3 154.2 562.7 154.7 560.0C155.2 557.3 155.8 554.7 156.3 552.0C156.8 549.3 157.4 546.7 157.9 544.0C158.4 541.3 159.1 538.7 159.6 536.0C160.1 533.3 160.7 530.7 161.2 528.0C161.7 525.3 162.3 522.7 162.8 520.0C163.3 517.3 163.9 514.7 164.4 512.0C164.9 509.3 165.5 506.7 166.0 504.0C166.5 501.3 167.1 498.7 167.6 496.0C168.1 493.3 168.6 490.7 169.1 488.0C169.6 485.3 170.2 482.7 170.7 480.0C171.2 477.3 171.8 474.7 172.3 472.0C172.8 469.3 173.3 466.7 173.8 464.0C174.3 461.3 174.8 458.7 175.3 456.0C175.8 453.3 176.4 450.7 176.9 448.0C177.4 445.3 177.9 442.7 178.4 440.0C178.9 437.3 179.5 434.7 180.0 432.0C180.5 429.3 181.0 426.7 181.5 424.0C182.0 421.3 182.5 418.7 183.1 416.0C183.7 413.3 184.2 410.7 184.8 408.0C185.4 405.3 185.9 402.7 186.5 400.0C187.1 397.3 187.7 394.7 188.3 392.0C188.9 389.3 189.5 386.7 190.1 384.0C190.7 381.3 191.4 378.7 192.1 376.0C192.8 373.3 193.5 370.7 194.2 368.0C194.9 365.3 195.7 362.7 196.5 360.0C197.3 357.3 198.1 354.7 198.9 352.0C199.8 349.3 200.7 346.7 201.6 344.0C202.5 341.3 203.5 338.7 204.5 336.0C205.5 333.3 206.0 332.1 207.7 328.0C209.4 323.9 212.4 316.0 214.7 311.2C217.0 306.4 218.8 302.5 221.7 299.0C224.6 295.5 229.0 293.4 232.2 290.2C235.4 287.0 238.1 283.2 241.0 279.7C243.9 276.2 246.8 271.2 249.7 269.2C252.6 267.2 256.2 268.9 258.5 267.5C260.8 266.1 261.8 262.8 263.7 260.5C265.6 258.2 268.6 255.0 270.0 253.5C271.4 252.0 270.2 254.3 271.8 251.5C273.4 248.7 276.9 239.6 279.4 236.4C281.9 233.2 283.6 237.0 287.0 232.6C290.4 228.2 295.8 215.3 299.6 209.8C303.4 204.3 307.2 202.4 309.7 199.7C312.2 197.0 312.8 197.2 314.7 193.4C316.6 189.6 318.8 181.0 321.1 177.0C323.4 173.0 326.3 173.0 328.6 169.4C330.9 165.8 332.7 158.1 335.0 155.6C337.3 153.1 340.0 156.2 342.5 154.3C345.0 152.4 347.8 147.4 350.1 144.2C352.4 140.9 353.4 135.9 356.4 134.8C359.3 133.7 364.2 137.5 367.8 137.4C371.4 137.3 375.2 132.8 377.9 134.1C380.6 135.4 381.9 143.5 384.2 145.5C386.5 147.5 389.3 144.1 391.8 146.2C394.3 148.3 397.0 155.1 399.3 158.1C401.6 161.1 403.2 160.4 405.7 164.4C408.2 168.4 411.1 176.2 414.5 182.1C417.9 188.0 422.3 192.8 425.9 199.7C429.5 206.6 432.2 215.5 436.0 223.7C439.8 231.9 445.2 242.9 448.6 249.0C452.0 255.1 453.9 254.9 456.2 260.4C458.5 265.9 460.2 276.8 462.5 281.8C464.8 286.9 466.5 284.0 470.1 290.7C473.7 297.4 480.5 315.3 483.9 322.2C487.2 329.1 487.7 327.1 490.2 332.1C492.7 337.2 496.3 347.4 499.0 352.5C501.7 357.6 503.9 360.0 506.3 362.7C508.7 365.4 511.4 365.2 513.6 368.6C515.8 372.0 517.5 379.6 519.4 383.2C521.3 386.8 522.8 386.5 525.2 390.4C527.6 394.3 531.3 402.9 534.0 406.5C536.7 410.1 539.1 409.6 541.3 412.3C543.5 415.0 544.9 418.1 547.1 422.5C549.3 426.9 551.7 434.2 554.4 438.6C557.1 443.0 560.5 444.9 563.2 448.8C565.9 452.7 568.2 457.5 570.4 461.9C572.6 466.3 574.1 472.3 576.3 475.1C578.5 477.9 581.4 476.7 583.6 478.6C585.8 480.5 587.2 483.4 589.4 486.7C591.6 490.0 594.0 494.8 596.7 498.4C599.4 502.0 602.8 505.2 605.5 508.6C608.2 512.0 610.6 514.9 612.8 518.8C615.0 522.7 616.4 529.1 618.6 532.0C620.8 534.9 623.5 533.1 625.9 536.3C628.3 539.4 630.8 546.8 633.2 550.9C635.6 555.0 637.6 556.5 640.5 561.1C643.4 565.7 647.3 573.0 650.7 578.6C654.1 584.2 657.8 590.1 660.9 594.7C664.0 599.3 666.2 602.4 669.6 606.3C673.0 610.2 678.1 613.6 681.3 618.0C684.5 622.4 686.2 628.2 688.6 632.6C691.0 637.0 692.7 640.6 695.9 644.3C699.1 647.9 704.2 651.8 707.6 654.5C711.0 657.2 713.4 657.5 716.3 660.3C719.2 663.1 722.2 669.0 725.1 671.1C728.0 673.2 730.4 670.8 733.8 672.9C737.2 675.0 741.1 682.0 745.5 683.7C749.9 685.5 756.4 683.2 760.0 683.4C763.6 683.5 763.5 685.8 767.0 684.6C770.5 683.4 776.3 679.5 781.0 676.4C785.7 673.3 790.3 670.2 795.0 665.9C799.7 661.6 804.3 657.9 809.0 650.7C813.7 643.5 819.1 631.7 823.0 622.7C826.9 613.8 829.2 606.3 832.3 597.0C835.4 587.7 839.0 575.6 841.7 566.7C844.4 557.8 846.4 552.0 848.7 543.4C851.0 534.8 853.4 524.7 855.7 515.4C858.0 506.1 860.0 496.3 862.7 487.4C865.4 478.4 869.3 469.9 872.0 461.7C874.7 453.5 876.7 446.5 879.0 438.3C881.3 430.1 883.7 418.1 886.0 412.7C888.3 407.3 890.7 408.4 893.0 405.7C895.3 403.0 897.3 398.1 900.0 396.3C902.7 394.6 906.3 394.4 909.4 395.2C912.5 396.0 915.6 397.7 918.7 401.0C921.8 404.3 924.9 409.6 928.0 415.0C931.1 420.4 934.7 427.1 937.4 433.7C940.1 440.3 942.1 446.9 944.4 454.7C946.7 462.5 949.1 471.8 951.4 480.3C953.7 488.9 956.0 496.1 958.4 506.0C960.8 515.9 963.0 527.6 965.8 539.6C968.5 551.6 972.2 567.8 974.9 577.9C977.6 588.0 979.6 590.9 981.9 600.0C984.1 609.1 986.2 622.9 988.4 632.8C990.6 642.6 992.1 648.1 995.0 659.1C997.9 670.1 1002.4 686.5 1006.0 698.5C1009.6 710.5 1013.8 722.7 1016.9 731.3C1020.0 739.9 1022.4 743.5 1024.7 750.0C1027.0 756.5 1028.9 764.4 1030.8 770.4C1032.7 776.4 1034.2 781.4 1035.9 785.7C1037.6 790.0 1039.3 792.6 1041.0 796.0C1042.7 799.4 1044.4 802.6 1046.1 806.2C1047.8 809.9 1048.5 811.4 1051.3 817.9C1054.1 824.4 1059.4 838.1 1062.8 845.1C1066.2 852.1 1068.8 855.1 1071.7 860.0C1074.6 864.9 1077.3 870.1 1080.0 874.2C1082.7 878.3 1084.8 880.0 1087.6 884.6C1090.4 889.2 1094.2 897.6 1097.0 901.7C1099.8 905.8 1102.1 907.5 1104.6 909.2C1107.1 910.9 1109.3 909.9 1112.2 912.1C1115.1 914.3 1118.2 918.9 1121.7 922.5C1125.2 926.1 1129.8 931.4 1133.0 933.9C1136.2 936.4 1137.8 935.7 1140.6 937.7C1143.4 939.8 1146.6 943.7 1150.1 946.2C1153.6 948.7 1158.2 951.4 1161.4 952.8C1164.6 954.2 1166.2 953.5 1169.0 954.7C1171.8 955.9 1175.0 958.7 1178.5 960.0C1182.0 961.3 1186.6 961.1 1189.8 962.3C1193.0 963.5 1194.9 966.6 1197.4 967.0C1199.9 967.4 1201.8 964.6 1205.0 964.5C1208.2 964.4 1212.9 965.5 1216.4 966.1C1219.9 966.7 1223.3 968.5 1225.8 968.3C1228.3 968.1 1229.0 964.9 1231.5 965.1C1234.0 965.4 1238.5 969.5 1241.0 969.8C1243.5 970.1 1244.5 966.8 1246.7 967.0C1248.9 967.2 1250.7 969.3 1254.2 970.8C1257.7 972.3 1263.1 975.1 1267.5 975.9C1271.9 976.7 1276.1 974.5 1280.8 975.5C1285.5 976.5 1291.3 980.5 1295.9 982.2C1300.5 983.9 1304.6 984.9 1308.3 985.7C1312.0 986.5 1315.1 985.8 1318.1 987.1C1321.1 988.4 1322.9 991.6 1326.4 993.3C1329.9 995.0 1335.4 996.7 1338.9 997.2C1342.4 997.7 1344.0 995.7 1347.2 996.1C1350.4 996.5 1354.6 998.7 1358.3 999.6C1362.0 1000.5 1366.6 1001.3 1369.4 1001.7C1372.2 1002.1 1372.7 1001.2 1375.0 1001.9C1377.3 1002.6 1379.6 1004.8 1383.3 1005.8C1387.0 1006.8 1393.5 1007.4 1397.2 1007.9C1400.9 1008.4 1402.3 1008.8 1405.6 1008.6C1408.8 1008.4 1413.7 1006.1 1416.7 1006.5C1419.7 1006.9 1421.3 1010.7 1423.6 1011.1C1425.9 1011.5 1427.8 1008.5 1430.6 1008.9C1433.4 1009.3 1436.8 1013.2 1440.3 1013.5C1443.8 1013.8 1448.4 1010.6 1451.4 1010.7C1454.4 1010.9 1455.3 1013.6 1458.3 1014.4C1461.3 1015.2 1465.7 1014.8 1469.4 1015.6C1473.1 1016.4 1477.3 1018.7 1480.6 1019.0C1483.8 1019.3 1485.7 1018.0 1488.9 1017.6C1492.1 1017.2 1496.8 1016.5 1500.0 1016.9C1503.2 1017.2 1506.9 1019.2 1508.3 1019.7"/>
</g>
<text x="96.00" y="1250.00" font-size="70.0" text-anchor="middle">400</text>
<text x="449.12" y="1250.00" font-size="70.0" text-anchor="middle">450</text>
<text x="802.25" y="1250.00" font-size="70.0" text-anchor="middle">500</text>
<text x="1155.38" y="1250.00" font-size="70.0" text-anchor="middle">550</text>
<text x="1508.50" y="1250.00" font-size="70.0" text-anchor="middle">600</text>
<text x="802.70" y="1333.60" font-size="68.0" text-anchor="middle">wavelength/nm</text>
<text transform="translate(68.90 568.20) rotate(-90)" x="0" y="0" font-size="68.0" text-anchor="middle">intensity/a.u.</text>
<line x1="1046.5" y1="87.70" x2="1197.2" y2="87.70" stroke="#ff2412" stroke-linecap="round" stroke-width="7.00" stroke-opacity="0.40"/>
<line x1="1046.5" y1="87.70" x2="1197.2" y2="87.70" stroke="#ff2412" stroke-linecap="round" stroke-width="4.60"/>
<text transform="translate(1214.60 109.60) scale(1 1.028)" font-size="68.7">p-30Fe</text>
<line x1="1046.5" y1="170.25" x2="1197.2" y2="170.25" stroke="#0030ff" stroke-linecap="round" stroke-width="7.00" stroke-opacity="0.40"/>
<line x1="1046.5" y1="170.25" x2="1197.2" y2="170.25" stroke="#0030ff" stroke-linecap="round" stroke-width="4.60"/>
<text transform="translate(1214.60 192.15) scale(1 1.028)" font-size="68.7">p-60Fe</text>
<line x1="1046.5" y1="252.80" x2="1197.2" y2="252.80" stroke="#008282" stroke-linecap="round" stroke-width="7.00" stroke-opacity="0.40"/>
<line x1="1046.5" y1="252.80" x2="1197.2" y2="252.80" stroke="#008282" stroke-linecap="round" stroke-width="4.60"/>
<text transform="translate(1214.60 274.70) scale(1 1.028)" font-size="68.7">p-90Fe</text>
<line x1="1046.5" y1="335.35" x2="1197.2" y2="335.35" stroke="#ff22ff" stroke-linecap="round" stroke-width="7.00" stroke-opacity="0.40"/>
<line x1="1046.5" y1="335.35" x2="1197.2" y2="335.35" stroke="#ff22ff" stroke-linecap="round" stroke-width="4.60"/>
<text transform="translate(1214.60 357.25) scale(1 1.028)" font-size="68.7">p-120Fe</text>
<line x1="1046.5" y1="417.90" x2="1197.2" y2="417.90" stroke="#858700" stroke-linecap="round" stroke-width="7.00" stroke-opacity="0.40"/>
<line x1="1046.5" y1="417.90" x2="1197.2" y2="417.90" stroke="#858700" stroke-linecap="round" stroke-width="4.60"/>
<text transform="translate(1214.60 439.80) scale(1 1.028)" font-size="68.7">p-180Fe</text>
</svg>
</body></html>
